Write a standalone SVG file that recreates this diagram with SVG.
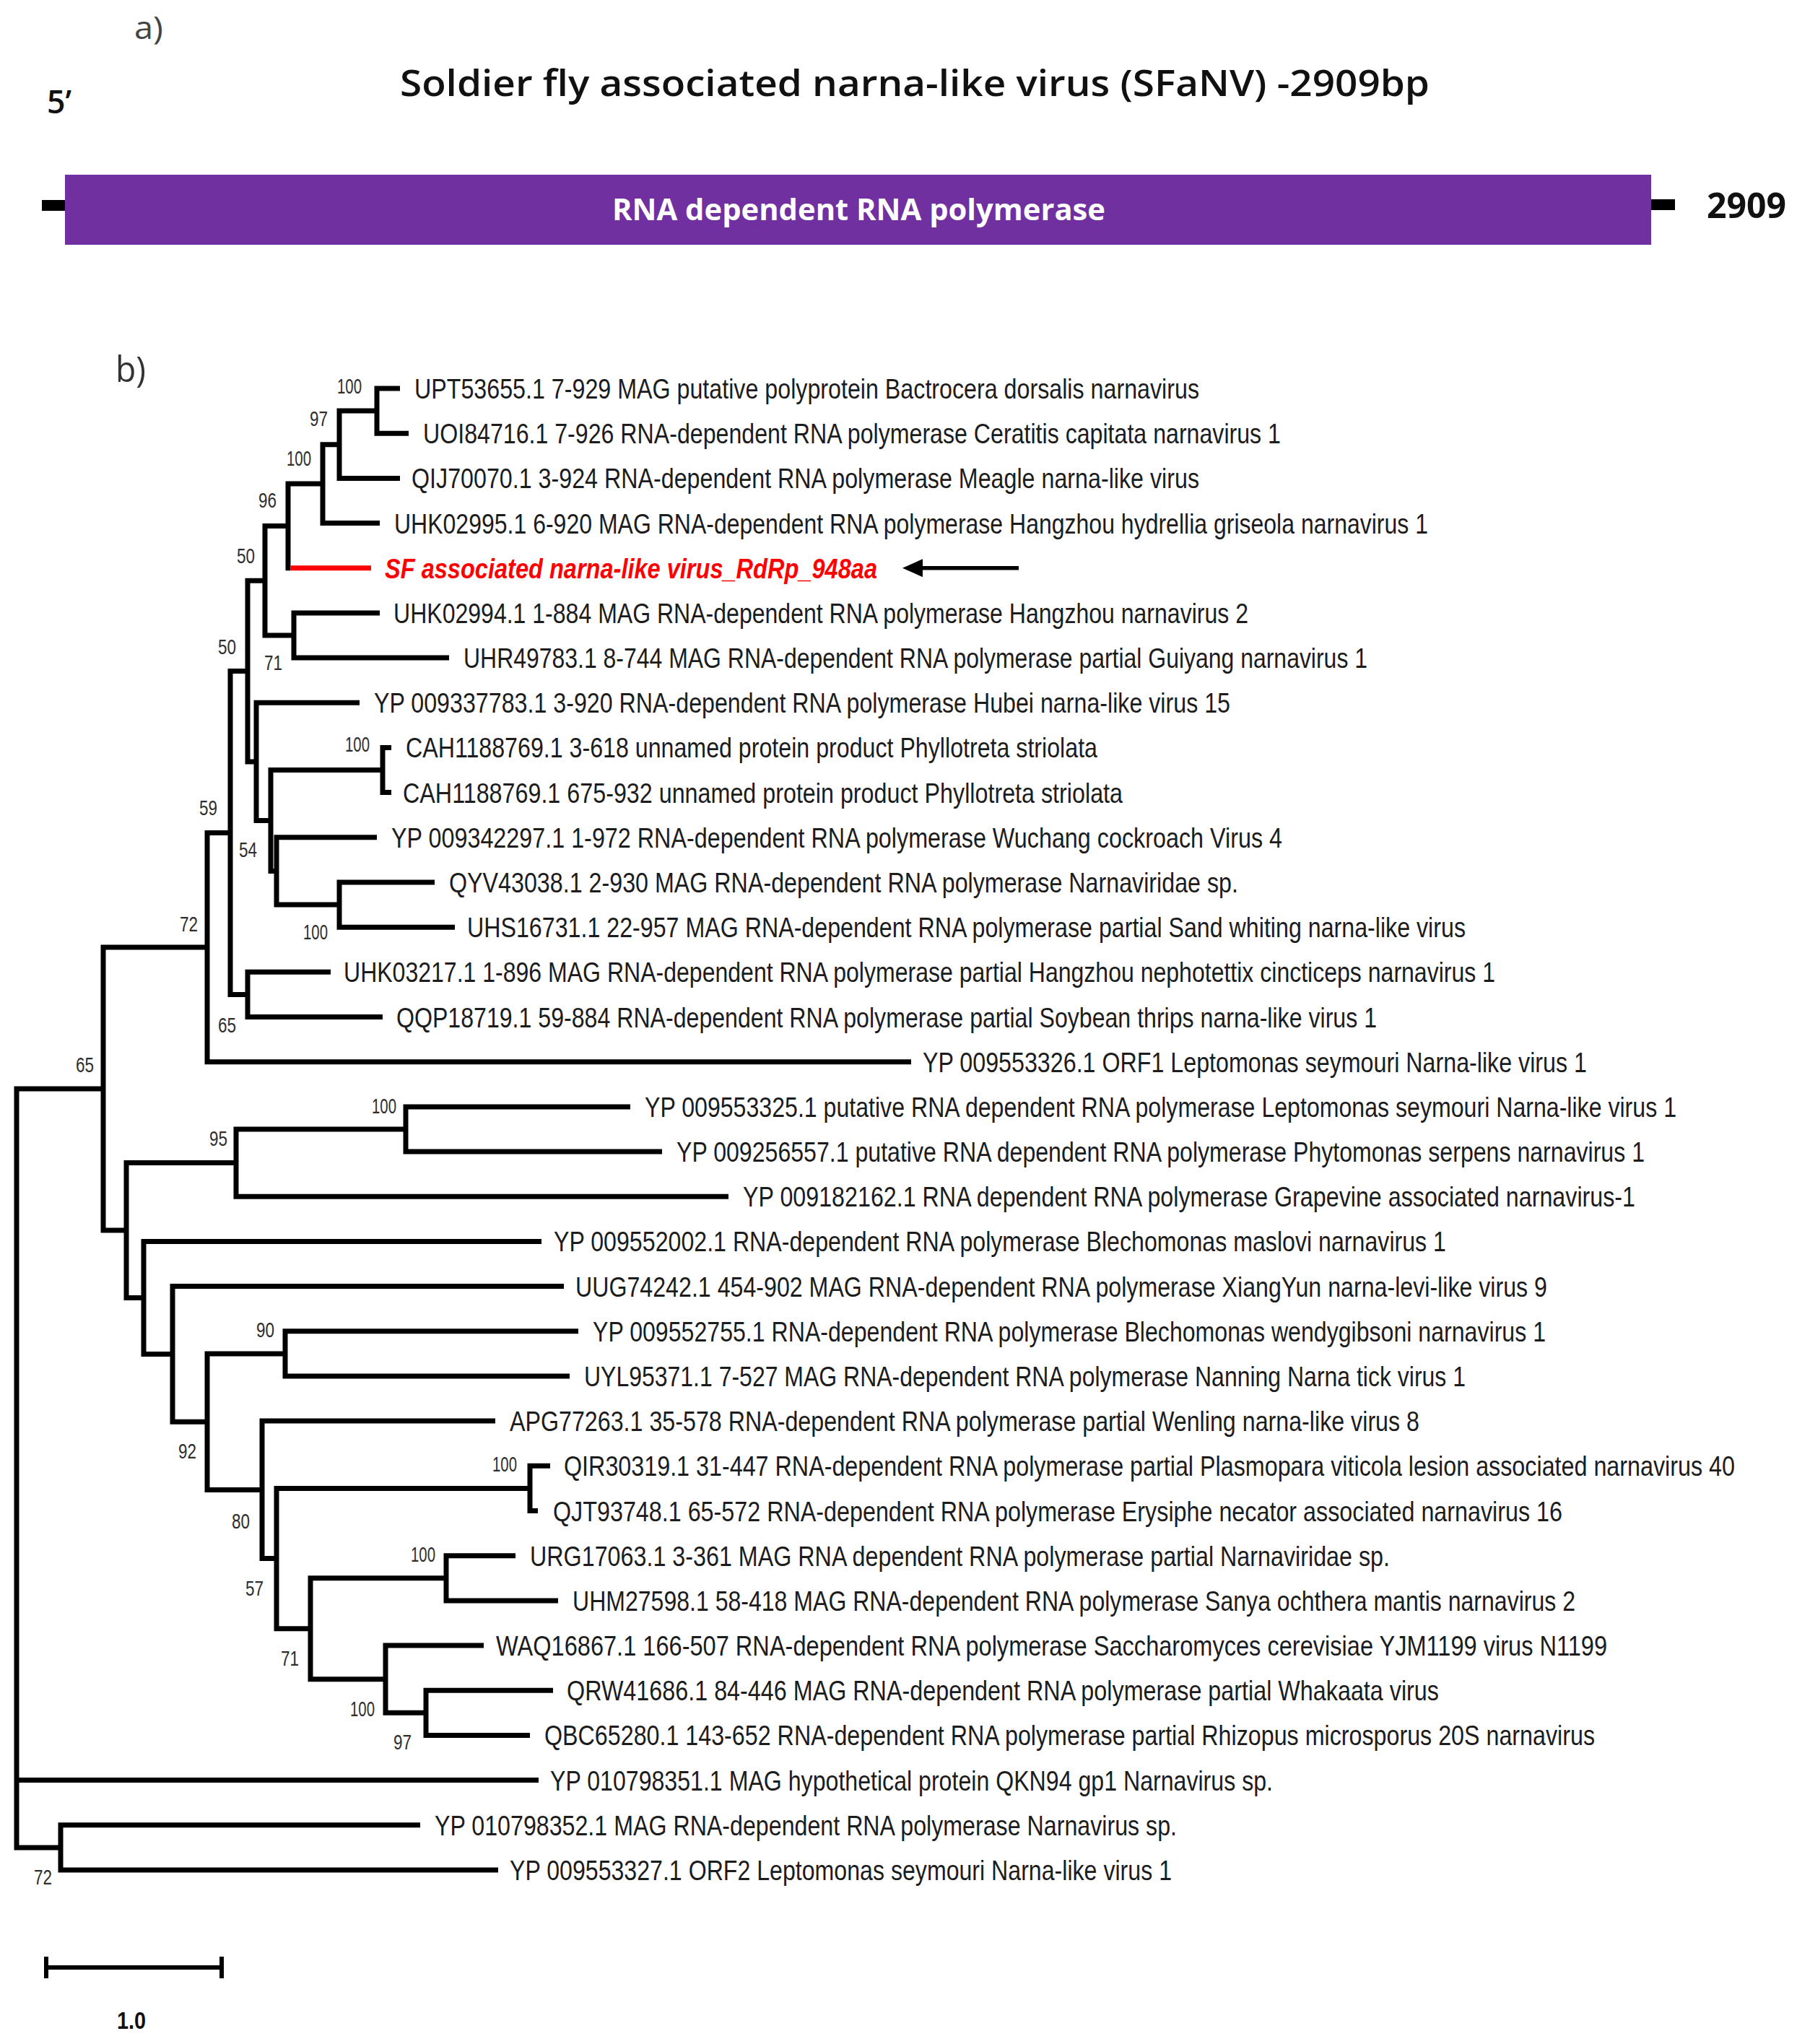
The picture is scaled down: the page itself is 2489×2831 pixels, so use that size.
<svg xmlns="http://www.w3.org/2000/svg" width="2489" height="2831" viewBox="0 0 2489 2831">
<defs>
<style>
.br{fill:none;stroke:#000;stroke-width:7;stroke-linejoin:miter;stroke-linecap:butt}
.red{fill:none;stroke:#ff0000;stroke-width:7}
.lf{font-family:"Liberation Sans",Arial,sans-serif;font-size:39px;fill:#1c1c1c}
.bs{font-family:"Liberation Sans",Arial,sans-serif;font-size:30px;fill:#2e2e2e;text-anchor:end}
.hd{font-family:"Open Sans","Noto Sans",sans-serif}
</style>
<marker id="ah" markerUnits="userSpaceOnUse" viewBox="0 0 28 25" markerWidth="28" markerHeight="25" refX="0" refY="12.5" orient="auto">
<path d="M0,0 L28,12.5 L0,25 z" fill="#000"/>
</marker>
</defs>
<rect width="2489" height="2831" fill="#fff"/>

<g id="panel-a">
<text x="186" y="54" class="hd" font-size="44" fill="#444" textLength="40" lengthAdjust="spacingAndGlyphs">a)</text>
<text x="65" y="157" class="hd" font-size="46" font-weight="600" fill="#111" textLength="34" lengthAdjust="spacingAndGlyphs">5’</text>
<text x="554" y="133" class="hd" font-size="50" font-weight="600" fill="#111" textLength="1426" lengthAdjust="spacingAndGlyphs">Soldier fly associated narna-like virus (SFaNV) -2909bp</text>
<rect id="line-left" x="58" y="277" width="33" height="15" fill="#000"/>
<rect id="line-right" x="2286" y="276" width="34" height="15" fill="#000"/>
<g id="rdrp-bar">
<rect x="90" y="242" width="2197" height="97" fill="#7030a0"/>
<text x="848" y="305" class="hd" font-size="42" font-weight="700" fill="#fff" textLength="683" lengthAdjust="spacingAndGlyphs">RNA dependent RNA polymerase</text>
</g>
<text x="2364" y="302" class="hd" font-size="48" font-weight="700" fill="#111" textLength="110" lengthAdjust="spacingAndGlyphs">2909</text>
</g>

<text x="160" y="529" class="hd" font-size="50" fill="#333" textLength="42" lengthAdjust="spacingAndGlyphs">b)</text>

<g id="connectors">
<path class="br" d="M554,538 H522 V600.2 H566"/>
<path class="br" d="M522,569.1 H470 V662.4 H554"/>
<path class="br" d="M470,615.7 H447 V724.5 H526"/>
<path class="br" d="M447,670.1 H399 V790.2"/>
<path class="red" d="M402.5,786.7 H514"/>
<path class="br" d="M526,848.9 H407 V911.1 H622"/>
<path class="br" d="M399,728.4 H367 V880 H407"/>
<path class="br" d="M542,1035.4 H530 V1097.6 H542"/>
<path class="br" d="M602,1222 H470 V1284.2 H630"/>
<path class="br" d="M522,1159.8 H383 V1253.1 H470"/>
<path class="br" d="M530,1066.5 H375 V1206.4 H383"/>
<path class="br" d="M498,973.3 H355 V1136.5 H375"/>
<path class="br" d="M367,804.2 H343 V1054.9 H355"/>
<path class="br" d="M458,1346.3 H343 V1408.5 H530"/>
<path class="br" d="M343,929.5 H319 V1377.4 H343"/>
<path class="br" d="M319,1153.5 H287 V1470.7 H1262"/>
<path class="br" d="M873,1532.9 H562 V1595.1 H917"/>
<path class="br" d="M562,1564 H327 V1657.2 H1009"/>
<path class="br" d="M801,1843.8 H395 V1906 H789"/>
<path class="br" d="M762,2030.3 H734 V2092.5 H745"/>
<path class="br" d="M714,2154.7 H618 V2216.9 H773"/>
<path class="br" d="M766,2341.2 H590 V2403.4 H734"/>
<path class="br" d="M670,2279 H534 V2372.3 H590"/>
<path class="br" d="M618,2185.8 H430 V2325.7 H534"/>
<path class="br" d="M734,2061.4 H383 V2255.8 H430"/>
<path class="br" d="M686,1968.1 H363 V2158.6 H383"/>
<path class="br" d="M395,1874.9 H287 V2063.4 H363"/>
<path class="br" d="M781,1781.6 H239 V1969.2 H287"/>
<path class="br" d="M750,1719.4 H199 V1875.4 H239"/>
<path class="br" d="M327,1610.6 H175 V1797.4 H199"/>
<path class="br" d="M287,1312.1 H143 V1704 H175"/>
<path class="br" d="M582,2527.8 H84 V2590 H690"/>
<path class="br" d="M143,1508 H23 V2558.9 H84"/>
<path class="br" d="M23,2465.6 H746"/>
<path id="arrow" d="M1411,786.7 H1278" stroke="#000" stroke-width="5.5" fill="none" marker-end="url(#ah)"/>
</g>

<g id="leaves">
<g id="t1"><text class="lf" x="574" y="552" textLength="1087" lengthAdjust="spacingAndGlyphs">UPT53655.1 7-929 MAG putative polyprotein Bactrocera dorsalis narnavirus</text></g>
<g id="t2"><text class="lf" x="586" y="614.2" textLength="1188" lengthAdjust="spacingAndGlyphs">UOI84716.1 7-926 RNA-dependent RNA polymerase Ceratitis capitata narnavirus 1</text></g>
<g id="t3"><text class="lf" x="570" y="676.4" textLength="1091" lengthAdjust="spacingAndGlyphs">QIJ70070.1 3-924 RNA-dependent RNA polymerase Meagle narna-like virus</text></g>
<g id="t4"><text class="lf" x="546" y="738.5" textLength="1432" lengthAdjust="spacingAndGlyphs">UHK02995.1 6-920 MAG RNA-dependent RNA polymerase Hangzhou hydrellia griseola narnavirus 1</text></g>
<g id="t5"><text class="lf" x="533" y="800.7" textLength="682" lengthAdjust="spacingAndGlyphs" fill="#ff0000" font-weight="700" font-style="italic" style="fill:#ff0000">SF associated narna-like virus_RdRp_948aa</text></g>
<g id="t6"><text class="lf" x="545" y="862.9" textLength="1184" lengthAdjust="spacingAndGlyphs">UHK02994.1 1-884 MAG RNA-dependent RNA polymerase Hangzhou narnavirus 2</text></g>
<g id="t7"><text class="lf" x="642" y="925.1" textLength="1252" lengthAdjust="spacingAndGlyphs">UHR49783.1 8-744 MAG RNA-dependent RNA polymerase partial Guiyang narnavirus 1</text></g>
<g id="t8"><text class="lf" x="518" y="987.3" textLength="1186" lengthAdjust="spacingAndGlyphs">YP 009337783.1 3-920 RNA-dependent RNA polymerase Hubei narna-like virus 15</text></g>
<g id="t9"><text class="lf" x="562" y="1049.4" textLength="958" lengthAdjust="spacingAndGlyphs">CAH1188769.1 3-618 unnamed protein product Phyllotreta striolata</text></g>
<g id="t10"><text class="lf" x="558" y="1111.6" textLength="997" lengthAdjust="spacingAndGlyphs">CAH1188769.1 675-932 unnamed protein product Phyllotreta striolata</text></g>
<g id="t11"><text class="lf" x="542" y="1173.8" textLength="1234" lengthAdjust="spacingAndGlyphs">YP 009342297.1 1-972 RNA-dependent RNA polymerase Wuchang cockroach Virus 4</text></g>
<g id="t12"><text class="lf" x="622" y="1236" textLength="1093" lengthAdjust="spacingAndGlyphs">QYV43038.1 2-930 MAG RNA-dependent RNA polymerase Narnaviridae sp.</text></g>
<g id="t13"><text class="lf" x="647" y="1298.2" textLength="1383" lengthAdjust="spacingAndGlyphs">UHS16731.1 22-957 MAG RNA-dependent RNA polymerase partial Sand whiting narna-like virus</text></g>
<g id="t14"><text class="lf" x="476" y="1360.3" textLength="1595" lengthAdjust="spacingAndGlyphs">UHK03217.1 1-896 MAG RNA-dependent RNA polymerase partial Hangzhou nephotettix cincticeps narnavirus 1</text></g>
<g id="t15"><text class="lf" x="549" y="1422.5" textLength="1358" lengthAdjust="spacingAndGlyphs">QQP18719.1 59-884 RNA-dependent RNA polymerase partial Soybean thrips narna-like virus 1</text></g>
<g id="t16"><text class="lf" x="1278" y="1484.7" textLength="920" lengthAdjust="spacingAndGlyphs">YP 009553326.1 ORF1 Leptomonas seymouri Narna-like virus 1</text></g>
<g id="t17"><text class="lf" x="893" y="1546.9" textLength="1429" lengthAdjust="spacingAndGlyphs">YP 009553325.1 putative RNA dependent RNA polymerase Leptomonas seymouri Narna-like virus 1</text></g>
<g id="t18"><text class="lf" x="937" y="1609.1" textLength="1341" lengthAdjust="spacingAndGlyphs">YP 009256557.1 putative RNA dependent RNA polymerase Phytomonas serpens narnavirus 1</text></g>
<g id="t19"><text class="lf" x="1029" y="1671.2" textLength="1236" lengthAdjust="spacingAndGlyphs">YP 009182162.1 RNA dependent RNA polymerase Grapevine associated narnavirus-1</text></g>
<g id="t20"><text class="lf" x="767" y="1733.4" textLength="1236" lengthAdjust="spacingAndGlyphs">YP 009552002.1 RNA-dependent RNA polymerase Blechomonas maslovi narnavirus 1</text></g>
<g id="t21"><text class="lf" x="797" y="1795.6" textLength="1346" lengthAdjust="spacingAndGlyphs">UUG74242.1 454-902 MAG RNA-dependent RNA polymerase XiangYun narna-levi-like virus 9</text></g>
<g id="t22"><text class="lf" x="821" y="1857.8" textLength="1320" lengthAdjust="spacingAndGlyphs">YP 009552755.1 RNA-dependent RNA polymerase Blechomonas wendygibsoni narnavirus 1</text></g>
<g id="t23"><text class="lf" x="809" y="1920" textLength="1221" lengthAdjust="spacingAndGlyphs">UYL95371.1 7-527 MAG RNA-dependent RNA polymerase Nanning Narna tick virus 1</text></g>
<g id="t24"><text class="lf" x="706" y="1982.1" textLength="1260" lengthAdjust="spacingAndGlyphs">APG77263.1 35-578 RNA-dependent RNA polymerase partial Wenling narna-like virus 8</text></g>
<g id="t25"><text class="lf" x="781" y="2044.3" textLength="1622" lengthAdjust="spacingAndGlyphs">QIR30319.1 31-447 RNA-dependent RNA polymerase partial Plasmopara viticola lesion associated narnavirus 40</text></g>
<g id="t26"><text class="lf" x="766" y="2106.5" textLength="1398" lengthAdjust="spacingAndGlyphs">QJT93748.1 65-572 RNA-dependent RNA polymerase Erysiphe necator associated narnavirus 16</text></g>
<g id="t27"><text class="lf" x="734" y="2168.7" textLength="1191" lengthAdjust="spacingAndGlyphs">URG17063.1 3-361 MAG RNA dependent RNA polymerase partial Narnaviridae sp.</text></g>
<g id="t28"><text class="lf" x="793" y="2230.9" textLength="1389" lengthAdjust="spacingAndGlyphs">UHM27598.1 58-418 MAG RNA-dependent RNA polymerase Sanya ochthera mantis narnavirus 2</text></g>
<g id="t29"><text class="lf" x="687" y="2293" textLength="1539" lengthAdjust="spacingAndGlyphs">WAQ16867.1 166-507 RNA-dependent RNA polymerase Saccharomyces cerevisiae YJM1199 virus N1199</text></g>
<g id="t30"><text class="lf" x="785" y="2355.2" textLength="1208" lengthAdjust="spacingAndGlyphs">QRW41686.1 84-446 MAG RNA-dependent RNA polymerase partial Whakaata virus</text></g>
<g id="t31"><text class="lf" x="754" y="2417.4" textLength="1455" lengthAdjust="spacingAndGlyphs">QBC65280.1 143-652 RNA-dependent RNA polymerase partial Rhizopus microsporus 20S narnavirus</text></g>
<g id="t32"><text class="lf" x="762" y="2479.6" textLength="1001" lengthAdjust="spacingAndGlyphs">YP 010798351.1 MAG hypothetical protein QKN94 gp1 Narnavirus sp.</text></g>
<g id="t33"><text class="lf" x="602" y="2541.8" textLength="1028" lengthAdjust="spacingAndGlyphs">YP 010798352.1 MAG RNA-dependent RNA polymerase Narnavirus sp.</text></g>
<g id="t34"><text class="lf" x="706" y="2604" textLength="917" lengthAdjust="spacingAndGlyphs">YP 009553327.1 ORF2 Leptomonas seymouri Narna-like virus 1</text></g>
</g>

<g id="bootstrap">
<text class="bs" x="501" y="545" textLength="34" lengthAdjust="spacingAndGlyphs">100</text>
<text class="bs" x="454" y="590" textLength="25" lengthAdjust="spacingAndGlyphs">97</text>
<text class="bs" x="431" y="645" textLength="34" lengthAdjust="spacingAndGlyphs">100</text>
<text class="bs" x="383" y="703" textLength="25" lengthAdjust="spacingAndGlyphs">96</text>
<text class="bs" x="353" y="780" textLength="25" lengthAdjust="spacingAndGlyphs">50</text>
<text class="bs" x="391" y="928" textLength="25" lengthAdjust="spacingAndGlyphs">71</text>
<text class="bs" x="327" y="906" textLength="25" lengthAdjust="spacingAndGlyphs">50</text>
<text class="bs" x="512" y="1041" textLength="34" lengthAdjust="spacingAndGlyphs">100</text>
<text class="bs" x="356" y="1187" textLength="25" lengthAdjust="spacingAndGlyphs">54</text>
<text class="bs" x="454" y="1301" textLength="34" lengthAdjust="spacingAndGlyphs">100</text>
<text class="bs" x="301" y="1129" textLength="25" lengthAdjust="spacingAndGlyphs">59</text>
<text class="bs" x="327" y="1430" textLength="25" lengthAdjust="spacingAndGlyphs">65</text>
<text class="bs" x="274" y="1290" textLength="25" lengthAdjust="spacingAndGlyphs">72</text>
<text class="bs" x="130" y="1485" textLength="25" lengthAdjust="spacingAndGlyphs">65</text>
<text class="bs" x="549" y="1542" textLength="34" lengthAdjust="spacingAndGlyphs">100</text>
<text class="bs" x="315" y="1587" textLength="25" lengthAdjust="spacingAndGlyphs">95</text>
<text class="bs" x="380" y="1852" textLength="25" lengthAdjust="spacingAndGlyphs">90</text>
<text class="bs" x="272" y="2020" textLength="25" lengthAdjust="spacingAndGlyphs">92</text>
<text class="bs" x="716" y="2038" textLength="34" lengthAdjust="spacingAndGlyphs">100</text>
<text class="bs" x="346" y="2117" textLength="25" lengthAdjust="spacingAndGlyphs">80</text>
<text class="bs" x="603" y="2163" textLength="34" lengthAdjust="spacingAndGlyphs">100</text>
<text class="bs" x="365" y="2210" textLength="25" lengthAdjust="spacingAndGlyphs">57</text>
<text class="bs" x="414" y="2307" textLength="25" lengthAdjust="spacingAndGlyphs">71</text>
<text class="bs" x="519" y="2377" textLength="34" lengthAdjust="spacingAndGlyphs">100</text>
<text class="bs" x="570" y="2423" textLength="25" lengthAdjust="spacingAndGlyphs">97</text>
<text class="bs" x="72" y="2610" textLength="25" lengthAdjust="spacingAndGlyphs">72</text>
</g>

<g id="scale-bar">
<path d="M64,2725 H307 M64,2710 V2740 M307,2710 V2740" stroke="#000" stroke-width="6" fill="none"/>
<text x="162" y="2810" font-family="Liberation Sans, Arial, sans-serif" font-size="34" font-weight="700" fill="#111" textLength="40" lengthAdjust="spacingAndGlyphs">1.0</text>
</g>
</svg>
